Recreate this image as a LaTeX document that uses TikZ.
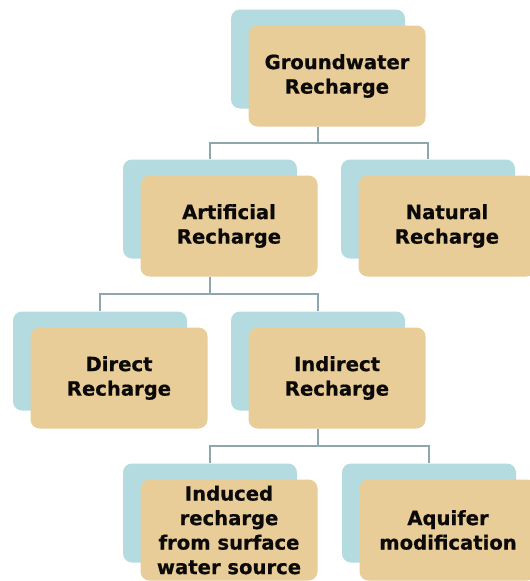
\documentclass[tikz,border=0pt]{standalone}
\usepackage{fontspec}
\setmainfont{DejaVu Sans}
\newfontfamily\heavyfont{DejaVu Sans Bold}[FakeBold=0.7]
\usetikzlibrary{calc}
\definecolor{backblue}{RGB}{180,220,224}
\definecolor{tanfill}{RGB}{233,205,152}
\definecolor{connc}{RGB}{143,166,174}
\definecolor{txt}{RGB}{12,10,8}
\tikzset{
  backbox/.style={fill=backblue, rounded corners=9pt, minimum width=174pt, minimum height=99pt, inner sep=0pt},
  frontbox/.style={fill=tanfill, rounded corners=9pt, minimum width=177pt, minimum height=101pt, inner sep=0pt,
    align=center, text=txt, font=\fontsize{19.6}{24.5}\selectfont\heavyfont},
  conn/.style={draw=connc, line width=1.8pt}
}
\begin{document}
\begin{tikzpicture}[x=1pt,y=-1pt]
\useasboundingbox (0,0) rectangle (530,581);
\clip (0,0) rectangle (530,581);
\fill[white] (0,0) rectangle (530,581);
% back boxes
\node[backbox] (gb) at (318,59) {};
\node[backbox] (ab) at (210,209) {};
\node[backbox] (nb) at (428,209) {};
\node[backbox] (db) at (100,361) {};
\node[backbox] (ib) at (318,361) {};
\node[backbox] (sb) at (210,513) {};
\node[backbox] (mb) at (429,513) {};
% front boxes
\node[frontbox] (g) at ($(gb)+(19,17)$) {Groundwater\\Recharge};
\node[frontbox] (a) at ($(ab)+(19,17)$) {Artificial\\Recharge};
\node[frontbox] (n) at ($(nb)+(19,17)$) {Natural\\Recharge};
\node[frontbox] (d) at ($(db)+(19,17)$) {Direct\\Recharge};
\node[frontbox] (i) at ($(ib)+(19,17)$) {Indirect\\Recharge};
\node[frontbox] (s) at ($(sb)+(19,17)$) {Induced\\recharge\\from surface\\water source};
\node[frontbox] (m) at ($(mb)+(19,17)$) {Aquifer\\modification};
% connectors
\coordinate (j1) at ($(gb.center |- g.south)!0.5!(gb.center |- ab.north)$);
\draw[conn] (gb.center |- g.south) -- (j1);
\draw[conn] (ab.north) |- (j1) -| (nb.north);
\coordinate (j2) at ($(ab.center |- a.south)!0.5!(ab.center |- db.north)$);
\draw[conn] (ab.center |- a.south) -- (j2);
\draw[conn] (db.north) |- (j2) -| (ib.north);
\coordinate (j3) at ($(ib.center |- i.south)!0.5!(ib.center |- sb.north)$);
\draw[conn] (ib.center |- i.south) -- (j3);
\draw[conn] (sb.north) |- (j3) -| (mb.north);
\end{tikzpicture}
\end{document}
